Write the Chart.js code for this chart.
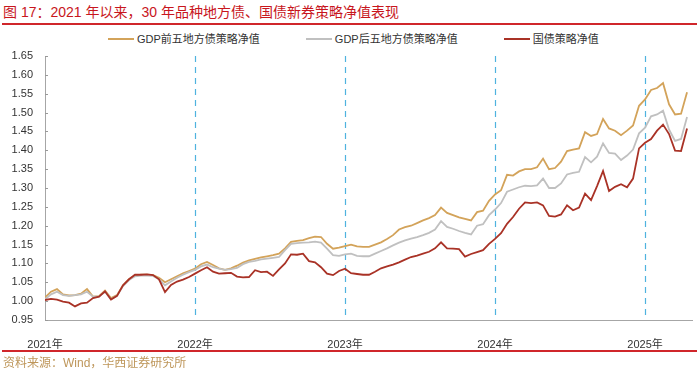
<!DOCTYPE html>
<html>
<head>
<meta charset="utf-8">
<script src="https://cdn.jsdelivr.net/npm/chart.js@4.4.1/dist/chart.umd.min.js"></script>
<style>
  body { margin: 0; background: #fff; }
  #wrap { position: relative; width: 699px; height: 375px; overflow: hidden;
    font-family: "Liberation Sans", "Noto Sans CJK SC", sans-serif; }
  #title { position: absolute; left: 3px; top: 2px; font-size: 14px; line-height: 20px; color: #C8161D; white-space: nowrap; }
  .rule { position: absolute; left: 2px; width: 695px; height: 2px; background: #D0262B; }
  #legend { position: absolute; left: 108px; top: 31px; display: flex; font-size: 11px; color: #333; line-height: 16px; }
  .item { display: flex; align-items: center; margin-right: 46px; white-space: nowrap; }
  .swatch { width: 26px; height: 2.5px; margin-right: 3px; }
  #source { position: absolute; left: 3px; top: 355px; font-size: 12px; line-height: 16px; color: #BE965A; white-space: nowrap; }
  canvas { position: absolute; left: 0; top: 0; }
</style>
</head>
<body>
<div id="wrap">
  <div id="title">图 17：2021 年以来，30 年品种地方债、国债新券策略净值表现</div>
  <div class="rule" style="top:23px"></div>
  <div id="legend"></div>
  <canvas id="chart" width="699" height="375"></canvas>
  <div class="rule" style="top:350px"></div>
  <div id="source">资料来源：Wind，华西证券研究所</div>
</div>
<script>
// series names
const seriesNames = ["GDP前五地方债策略净值", "GDP后五地方债策略净值", "国债策略净值"];

// axis ticks
const yearTicks = [2021, 2022, 2023, 2024, 2025];
const yearLabels = ["2021年", "2022年", "2023年", "2024年", "2025年"];
const yTicks = [0.95, 1.00, 1.05, 1.10, 1.15, 1.20, 1.25, 1.30, 1.35, 1.40, 1.45, 1.50, 1.55, 1.60, 1.65];
const yLabels = ["0.95", "1.00", "1.05", "1.10", "1.15", "1.20", "1.25", "1.30", "1.35", "1.40", "1.45", "1.50", "1.55", "1.60", "1.65"];

// net values, one point every ~2 weeks from Jan 2021
const gdpTop5 = [
  1.010, 1.025, 1.032, 1.018, 1.015, 1.016, 1.020, 1.032, 1.012, 1.013,
  1.028, 1.008, 1.016, 1.042, 1.058, 1.068, 1.070, 1.070, 1.069, 1.062,
  1.050, 1.058, 1.066, 1.074, 1.080, 1.086, 1.098, 1.104, 1.096, 1.087,
  1.083, 1.087, 1.094, 1.102, 1.108, 1.112, 1.116, 1.119, 1.122, 1.126,
  1.140, 1.157, 1.160, 1.162, 1.167, 1.171, 1.170, 1.152, 1.139, 1.142,
  1.146, 1.150, 1.145, 1.144, 1.144, 1.150, 1.156, 1.165, 1.175, 1.190,
  1.196, 1.200, 1.207, 1.214, 1.220, 1.228, 1.248, 1.234, 1.228, 1.222,
  1.218, 1.214, 1.236, 1.240, 1.266, 1.283, 1.294, 1.335, 1.333, 1.344,
  1.350, 1.350, 1.355, 1.378, 1.350, 1.353, 1.370, 1.398, 1.402, 1.405,
  1.448, 1.438, 1.443, 1.483, 1.458, 1.452, 1.440, 1.452, 1.466, 1.518,
  1.535, 1.560, 1.565, 1.578, 1.522, 1.495, 1.497, 1.554
];
const gdpBottom5 = [
  1.005, 1.018, 1.025, 1.016, 1.014, 1.016, 1.018, 1.025, 1.012, 1.012,
  1.025, 1.005, 1.014, 1.040, 1.056, 1.066, 1.068, 1.068, 1.067, 1.058,
  1.042, 1.052, 1.062, 1.070, 1.077, 1.083, 1.092, 1.097, 1.090, 1.086,
  1.083, 1.085, 1.088, 1.098, 1.104, 1.107, 1.111, 1.113, 1.115, 1.117,
  1.135, 1.152, 1.154, 1.155, 1.156, 1.158, 1.155, 1.139, 1.122, 1.120,
  1.124, 1.126, 1.120, 1.119, 1.119, 1.126, 1.133, 1.140, 1.148, 1.155,
  1.161, 1.166, 1.170, 1.175, 1.181, 1.190, 1.212, 1.197, 1.192, 1.186,
  1.181, 1.177, 1.200, 1.204, 1.228, 1.243, 1.260, 1.290, 1.296, 1.302,
  1.306, 1.305, 1.307, 1.325, 1.300, 1.300, 1.312, 1.336, 1.340, 1.343,
  1.382, 1.368, 1.383, 1.418, 1.393, 1.391, 1.374, 1.386, 1.402, 1.445,
  1.460, 1.490, 1.495, 1.505, 1.455, 1.425, 1.430, 1.488
];
const treasury = [
  1.003, 1.006, 1.004, 0.999, 0.996, 0.986, 0.994, 0.996, 1.008, 1.012,
  1.026, 1.004, 1.014, 1.042, 1.058, 1.070, 1.070, 1.071, 1.069, 1.058,
  1.024, 1.043, 1.052, 1.057, 1.064, 1.073, 1.082, 1.090, 1.078, 1.073,
  1.074, 1.075, 1.065, 1.063, 1.064, 1.082, 1.077, 1.078, 1.067, 1.084,
  1.100, 1.124, 1.123, 1.126, 1.106, 1.103, 1.090, 1.073, 1.069, 1.080,
  1.086, 1.074, 1.072, 1.070, 1.070, 1.078, 1.087, 1.092, 1.097, 1.103,
  1.110, 1.117, 1.121, 1.126, 1.131, 1.140, 1.156, 1.140, 1.139, 1.138,
  1.118, 1.125, 1.130, 1.135, 1.152, 1.165, 1.180, 1.205, 1.223, 1.245,
  1.262, 1.260, 1.262, 1.254, 1.226, 1.224, 1.230, 1.254, 1.241, 1.248,
  1.285, 1.268, 1.305, 1.345, 1.292, 1.303, 1.310, 1.302, 1.325, 1.405,
  1.420, 1.430, 1.452, 1.468, 1.443, 1.399, 1.398, 1.458
];

const colors = ["#D3A35A", "#C0C0C0", "#A93226"];

// x = decimal year, one sample every 0.04 year
const xs = gdpTop5.map((_, i) => 2021 + i * 0.04);
const toPoints = (arr) => arr.map((v, i) => ({ x: xs[i], y: v }));

// html legend
const legendEl = document.getElementById("legend");
seriesNames.forEach((name, i) => {
  const item = document.createElement("div");
  item.className = "item";
  item.innerHTML = '<span class="swatch" style="background:' + colors[i] + '"></span><span>' + name + "</span>";
  legendEl.appendChild(item);
});

// dashed year lines + small tick marks on the inner side of the y axis
const axisDecor = {
  id: "axisDecor",
  beforeDatasetsDraw(chart) {
    const x = chart.scales.x;
    const area = chart.chartArea;
    const ctx = chart.ctx;
    ctx.save();
    ctx.strokeStyle = "#4FB3DF";
    ctx.lineWidth = 1.2;
    ctx.setLineDash([6, 5]);
    yearTicks.slice(1).forEach((v) => {
      const px = Math.round(x.getPixelForValue(v)) + 0.5;
      ctx.beginPath();
      ctx.moveTo(px, area.top);
      ctx.lineTo(px, area.bottom);
      ctx.stroke();
    });
    ctx.restore();
  },
  afterDraw(chart) {
    const y = chart.scales.y;
    const ctx = chart.ctx;
    ctx.save();
    ctx.strokeStyle = "#999";
    ctx.lineWidth = 1;
    y.ticks.forEach((t) => {
      const py = Math.round(y.getPixelForValue(t.value)) + 0.5;
      ctx.beginPath();
      ctx.moveTo(y.right, py);
      ctx.lineTo(y.right + 3, py);
      ctx.stroke();
    });
    ctx.restore();
  },
};

Chart.defaults.font.family = '"Liberation Sans", "Noto Sans CJK SC", sans-serif';
Chart.defaults.font.size = 11;
Chart.defaults.color = "#333";

new Chart(document.getElementById("chart"), {
  type: "line",
  data: {
    datasets: [
      { label: seriesNames[0], data: toPoints(gdpTop5), borderColor: colors[0], backgroundColor: colors[0], order: 3 },
      { label: seriesNames[1], data: toPoints(gdpBottom5), borderColor: colors[1], backgroundColor: colors[1], order: 2 },
      { label: seriesNames[2], data: toPoints(treasury), borderColor: colors[2], backgroundColor: colors[2], order: 1 },
    ],
  },
  options: {
    responsive: false,
    animation: false,
    devicePixelRatio: 1,
    layout: { padding: { top: 56, right: 7, left: 0, bottom: 0 } },
    elements: {
      line: { borderWidth: 1.8, tension: 0 },
      point: { radius: 0, hoverRadius: 0 },
    },
    plugins: {
      legend: { display: false },
      tooltip: { enabled: false },
    },
    scales: {
      x: {
        type: "linear",
        min: 2021,
        max: 2025.313,
        afterBuildTicks: (axis) => { axis.ticks = yearTicks.map((v) => ({ value: v })); },
        afterFit: (scale) => { scale.height = 55; },
        ticks: {
          autoSkip: false,
          maxRotation: 0,
          padding: 10,
          callback: (v, i) => yearLabels[i],
        },
        grid: { display: false },
        border: { display: true, color: "#A6A6A6", width: 1 },
      },
      y: {
        min: 0.95,
        max: 1.65,
        afterBuildTicks: (axis) => { axis.ticks = yTicks.map((v) => ({ value: v })); },
        afterFit: (scale) => { scale.width = 45; },
        ticks: {
          padding: 12,
          callback: (v, i) => yLabels[i],
        },
        grid: { display: true, drawOnChartArea: false, drawTicks: false },
        border: { display: true, color: "#A6A6A6", width: 1 },
      },
    },
  },
  plugins: [axisDecor],
});
</script>
</body>
</html>
